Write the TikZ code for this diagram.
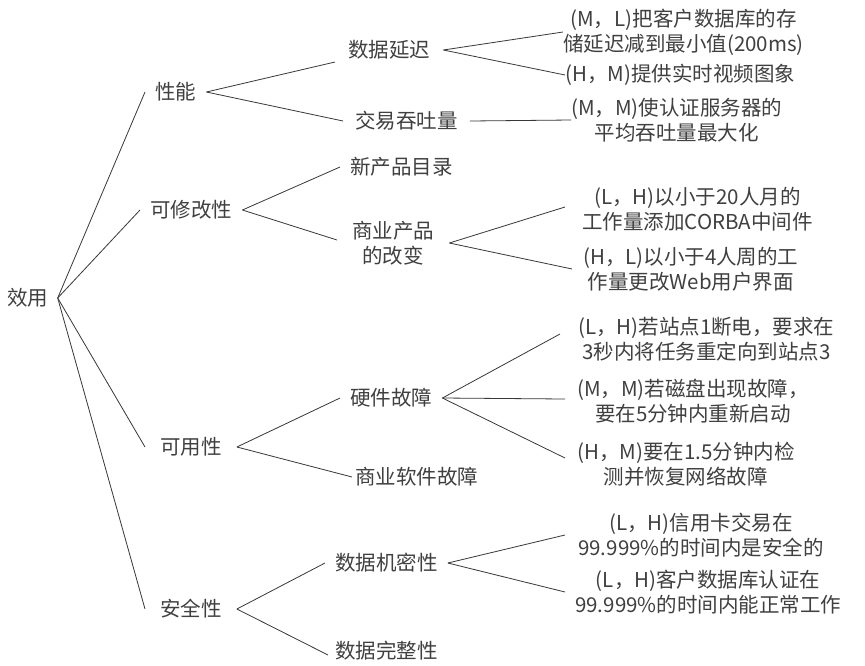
\documentclass[tikz,border=0pt]{standalone}
\usepackage{fontspec}
\setmainfont{Noto Sans CJK SC}
\definecolor{txt}{HTML}{404040}
\definecolor{ln}{HTML}{383838}
\tikzset{
  lbl/.style={font=\fontsize{20.5}{25}\selectfont, text=txt, inner ysep=2pt, align=center, anchor=west},
  conn/.style={draw=ln, line width=0.8pt}
}
\begin{document}
\begin{tikzpicture}[x=1pt,y=-1pt]
\useasboundingbox[fill=white] (0,0) rectangle (865,665);
% root
\node[lbl, anchor=center, inner xsep=9pt] (root) at (28,298) {效用};
% level 1
\node[lbl, inner xsep=10pt] (perf) at (145,92) {性能};
\node[lbl, inner xsep=10pt] (modi) at (140,210) {可修改性};
\node[lbl, inner xsep=15pt] (avail) at (145,447) {可用性};
\node[lbl, inner xsep=15pt] (secu) at (145,609) {安全性};
% level 2
\node[lbl, inner xsep=13pt] (lat) at (335,50) {数据延迟};
\node[lbl, inner xsep=12pt] (thr) at (343,121) {交易吞吐量};
\node[lbl, inner xsep=10pt] (cat) at (340,167) {新产品目录};
\node[lbl, inner xsep=15pt] (cots) at (337,243) {商业产品\\的改变};
\node[lbl, inner xsep=10pt] (hw) at (340,398) {硬件故障};
\node[lbl, inner xsep=3pt] (sw) at (352,477) {商业软件故障};
\node[lbl, inner xsep=10pt] (conf) at (325,563) {数据机密性};
\node[lbl, inner xsep=7pt] (integ) at (328,651) {数据完整性};
% leaves
\node[lbl, inner xsep=0pt] (l1) at (563,32) {(M，L)把客户数据库的存\\储延迟减到最小值(200ms)};
\node[lbl, inner xsep=0pt] (l2) at (565,75) {(H，M)提供实时视频图象};
\node[lbl, inner xsep=0pt] (l3) at (571,120) {(M，M)使认证服务器的\\平均吞吐量最大化};
\node[lbl, inner xsep=17pt] (l4) at (565,209) {(L，H)以小于20人月的\\工作量添加CORBA中间件};
\node[lbl, inner xsep=11pt] (l5) at (572,269) {(H，L)以小于4人周的工\\作量更改Web用户界面};
\node[lbl, inner xsep=18pt] (l6) at (560,339) {(L，H)若站点1断电，要求在\\3秒内将任务重定向到站点3};
\node[lbl, inner xsep=12pt] (l7) at (565,401) {(M，M)若磁盘出现故障，\\要在5分钟内重新启动};
\node[lbl, inner xsep=12pt] (l8) at (565,464) {(H，M)要在1.5分钟内检\\测并恢复网络故障};
\node[lbl, inner xsep=13pt] (l9) at (565,535) {(L，H)信用卡交易在\\99.999\%的时间内是安全的};
\node[lbl, inner xsep=10pt] (l10) at (565,592) {(L，H)客户数据库认证在\\99.999\%的时间内能正常工作};
% connectors
\draw[conn] (root.east) -- (perf.west);
\draw[conn] (root.east) -- (modi.west);
\draw[conn] (root.east) -- (avail.west);
\draw[conn] (root.east) -- (secu.west);
\draw[conn] (perf.east) -- ([yshift=-12pt]lat.west);
\draw[conn] (perf.east) -- (thr.west);
\draw[conn] (modi.east) -- (cat.west);
\draw[conn] (modi.east) -- ([yshift=3pt]cots.west);
\draw[conn] (avail.east) -- (hw.west);
\draw[conn] (avail.east) -- (sw.west);
\draw[conn] (secu.east) -- (conf.west);
\draw[conn] (secu.east) -- ([yshift=-4pt]integ.west);
\draw[conn] (lat.east) -- (l1.west);
\draw[conn] (lat.east) -- (l2.west);
\draw[conn] (thr.east) -- (l3.west);
\draw[conn] (cots.east) -- ([yshift=2pt]l4.west);
\draw[conn] (cots.east) -- (l5.west);
\draw[conn] (hw.east) -- ([yshift=5pt]l6.west);
\draw[conn] (hw.east) -- ([yshift=2pt]l7.west);
\draw[conn] (hw.east) -- ([yshift=6pt]l8.west);
\draw[conn] (conf.east) -- (l9.west);
\draw[conn] (conf.east) -- (l10.west);
\end{tikzpicture}
\end{document}
